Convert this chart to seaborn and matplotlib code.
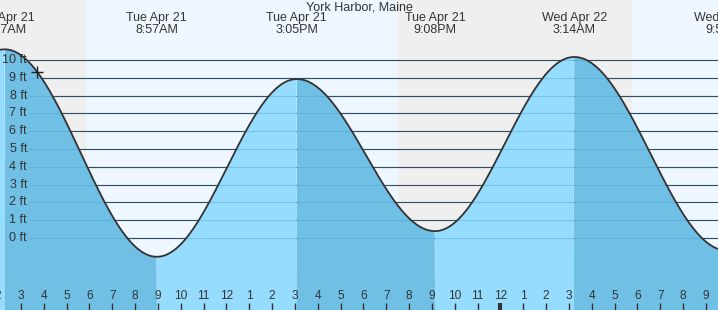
import numpy as np
import pandas as pd
import matplotlib
matplotlib.use("Agg")
import matplotlib.pyplot as plt
import matplotlib.transforms as mtransforms
import seaborn as sns

# ---- data (hours from Tue Apr 21 00:00) ----
ext_hours = [-4.0, 2.283, 8.95, 15.083, 21.133, 27.233, 33.917]
ext_heights = [0.5, 10.6, -1.05, 8.93, 0.39, 10.17, -0.7]
ext_labels = ["", "Tue Apr 21\n2:17AM", "Tue Apr 21\n8:57AM", "Tue Apr 21\n3:05PM",
              "Tue Apr 21\n9:08PM", "Wed Apr 22\n3:14AM", "Wed Apr 22\n9:55AM"]
night_spans = [(-6.0, 5.85), (19.5, 29.77)]
day_spans = [(5.85, 19.5), (29.77, 40.0)]
ft_levels = [0, 1, 2, 3, 4, 5, 6, 7, 8, 9, 10]
hour_ticks = list(range(2, 34))
marker_hour = 3.7
title = "York Harbor, Maine"

# ---- build tide curve from extremes ----
t = np.linspace(2.0, 33.6, 1500)
h = np.empty_like(t)
rising = np.zeros_like(t, dtype=bool)
for i in range(len(ext_hours) - 1):
    t0, t1 = ext_hours[i], ext_hours[i + 1]
    a, b = ext_heights[i], ext_heights[i + 1]
    m = (t >= t0) & (t <= t1)
    h[m] = (a + b) / 2 + (a - b) / 2 * np.cos(np.pi * (t[m] - t0) / (t1 - t0))
    rising[m] = b > a
df = pd.DataFrame({"hour": t, "height": h})

def height_at(x):
    return float(np.interp(x, t, h))

sns.set_style("white")
plt.rcParams["font.family"] = ["Liberation Sans", "DejaVu Sans"]

fig = plt.figure(figsize=(7.18, 3.10), dpi=100)
ax = fig.add_axes([0, 0, 1, 1])
xmin, xmax = 2.08, 33.53
ymin, ymax = -4.04, 13.37

for s, e in night_spans:
    ax.axvspan(s, e, color="#efefef", zorder=0, lw=0)
for s, e in day_spans:
    ax.axvspan(s, e, color="#eef7ff", zorder=0, lw=0)

for lv in ft_levels:
    ax.axhline(lv, xmin=29 / 718, xmax=1, color="#2a2a2a", lw=0.8, zorder=1)

ax.fill_between(t, ymin, h, where=rising, color="#95dcff", lw=0, zorder=2, interpolate=True)
ax.fill_between(t, ymin, h, where=~rising, color="#70c0e6", lw=0, zorder=2, interpolate=True)

for lv in ft_levels:
    ax.axhline(lv, xmin=29 / 718, xmax=1, color="#3d95c8", lw=0.8, alpha=0.35, zorder=3)

sns.lineplot(data=df, x="hour", y="height", ax=ax, color="#333333", lw=1.3, zorder=4, sort=False)
ax.set_xlim(xmin, xmax)
ax.set_ylim(ymin, ymax)
ax.axis("off")

ax.plot([marker_hour], [height_at(marker_hour)], marker="+", color="#222222",
        ms=8, mew=1.0, zorder=5)

tr_fy = mtransforms.blended_transform_factory(fig.transFigure, ax.transData)
for lv in ft_levels:
    ax.text(27 / 718, lv, f"{lv} ft", transform=tr_fy, ha="right", va="center",
            fontsize=9, color="#333333", zorder=6)

tr_xa = mtransforms.blended_transform_factory(ax.transData, ax.transAxes)
for hr in hour_ticks:
    lab = str((hr - 1) % 12 + 1)
    ax.text(hr, 1 - 296 / 310, lab, transform=tr_xa, ha="center", va="center",
            fontsize=8.6, color="#333333", zorder=6)
    lw = 3 if hr % 24 == 0 else 1
    ax.vlines(hr, 0, 7 / 310, transform=tr_xa, color="#333333", lw=lw, zorder=6)

for x, lab in zip(ext_hours, ext_labels):
    if lab:
        ax.text(x, 1 - 12 / 310, lab, transform=tr_xa, ha="center", va="top",
                fontsize=9, color="#333333", linespacing=0.95, zorder=6)

fig.text(0.5, 1 - 7 / 310, title, ha="center", va="center", fontsize=9, color="#333333")

fig.savefig("out.png", dpi=100)
